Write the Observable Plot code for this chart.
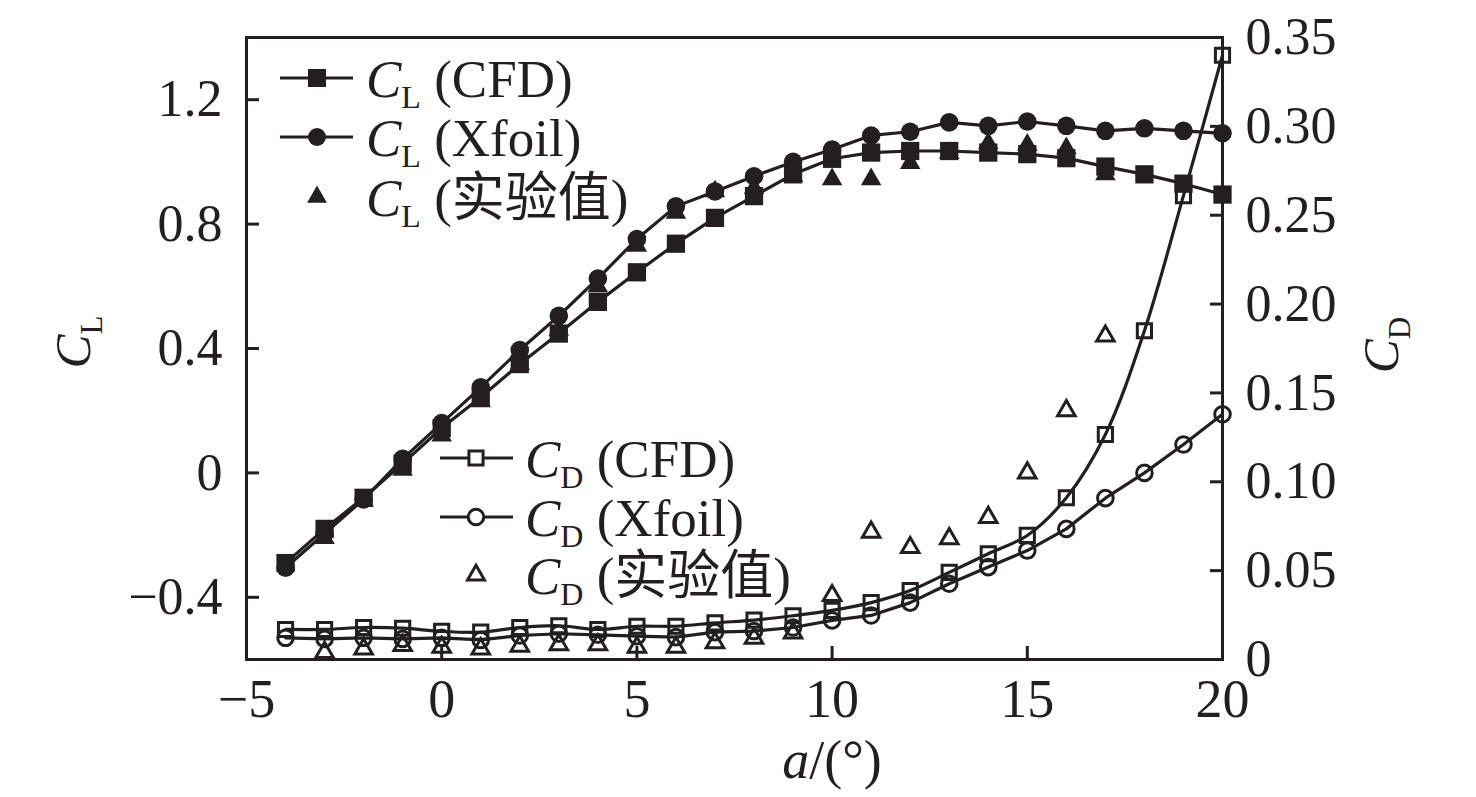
<!DOCTYPE html>
<html><head><meta charset="utf-8">
<script src="https://cdn.jsdelivr.net/npm/d3@7"></script>
<script src="https://cdn.jsdelivr.net/npm/@observablehq/plot@0.6"></script>
<style>body{margin:0;background:#fff;} svg{display:block}</style>
</head><body>
<div id="chart"></div>
<script>
// ---- data ----
const alpha = [-4,-3,-2,-1,0,1,2,3,4,5,6,7,8,9,10,11,12,13,14,15,16,17,18,19,20];
const clCFD = [-0.29,-0.18,-0.08,0.03,0.144,0.243,0.35,0.448,0.55,0.645,0.737,0.82,0.89,0.96,1.01,1.03,1.035,1.035,1.03,1.025,1.012,0.985,0.96,0.93,0.895];
const clXfoil = [-0.305,-0.195,-0.085,0.045,0.16,0.275,0.395,0.505,0.625,0.752,0.857,0.905,0.954,1.0,1.04,1.085,1.097,1.127,1.116,1.13,1.116,1.10,1.108,1.10,1.092];
const cdCFD = [0.0169,0.0169,0.018,0.0176,0.0158,0.0154,0.018,0.019,0.0169,0.0187,0.0187,0.0206,0.0222,0.0246,0.0276,0.032,0.0388,0.049,0.0595,0.0698,0.091,0.1266,0.185,0.261,0.340];
const cdXfoil = [0.0122,0.0116,0.0122,0.0116,0.0122,0.011,0.0135,0.0145,0.0139,0.0131,0.0126,0.0154,0.016,0.018,0.022,0.0248,0.032,0.0426,0.052,0.0613,0.0735,0.0908,0.105,0.121,0.138];
const alphaExp = [-3,-2,-1,0,1,2,3,4,5,6,7,8,9,10,11,12,13,14,15,16,17];
const clExp = [-0.21,-0.09,0.01,0.12,0.23,0.35,0.46,0.60,0.73,0.836,0.905,0.916,0.955,0.944,0.944,0.996,1.028,1.06,1.055,1.044,0.96];
const cdExp = [0.004,0.006,0.0079,0.0069,0.006,0.0075,0.0083,0.0083,0.0069,0.0069,0.0094,0.012,0.015,0.036,0.0717,0.063,0.068,0.080,0.105,0.14,0.182];

const xTicks = [-5,0,5,10,15,20];
const clTicks = [-0.4,0,0.4,0.8,1.2];
const cdTicks = [0,0.05,0.10,0.15,0.20,0.25,0.30,0.35];
const clDomain = [-0.6, 1.4];
const cdDomain = [0, 0.35];

// ---- helpers ----
const INK = "#231f20";
const FONT = "'Liberation Serif','Times New Roman','Noto Sans CJK SC',serif";
const cdToCl = v => clDomain[0] + (v - cdDomain[0]) * (clDomain[1]-clDomain[0])/(cdDomain[1]-cdDomain[0]);
const clToCd = v => cdDomain[0] + (v - clDomain[0]) * (cdDomain[1]-cdDomain[0])/(clDomain[1]-clDomain[0]);
const fmt = d3.format("~g");

const main = alpha.map((a,i)=>({a, clCFD: clCFD[i], clXfoil: clXfoil[i], cdCFD: cdToCl(cdCFD[i]), cdXfoil: cdToCl(cdXfoil[i])}));
const exp = alphaExp.map((a,i)=>({a, cl: clExp[i], cd: cdToCl(cdExp[i])}));

const chart = Plot.plot({
  width: 1476, height: 797,
  marginLeft: 246, marginRight: 254, marginTop: 37, marginBottom: 138,
  style: {fontFamily: FONT, fontSize: "52px", color: INK, background: "#fff", overflow: "visible"},
  x: {domain: [-5, 20]},
  y: {domain: clDomain},
  marks: [
    Plot.axisX({ticks: xTicks, tickSize: -13, tickPadding: 32, strokeWidth: 3, fontSize: 54, label: null, tickFormat: fmt}),
    Plot.axisY({anchor: "left", ticks: clTicks, tickSize: -13, tickPadding: 37, strokeWidth: 3, fontSize: 52, label: null, tickFormat: fmt}),
    Plot.axisY({anchor: "right", ticks: cdTicks.map(cdToCl), tickSize: -13, tickPadding: 36, strokeWidth: 3, fontSize: 52, label: null,
      tickFormat: v => { const c = Math.round(clToCd(v)*1000)/1000; return c === 0 ? "0" : c.toFixed(2); }}),
    Plot.frame({stroke: INK, strokeWidth: 3}),
    // CD
    Plot.line(main, {x: "a", y: "cdCFD", curve: "catmull-rom", stroke: INK, strokeWidth: 3.2}),
    Plot.line(main, {x: "a", y: "cdXfoil", stroke: INK, strokeWidth: 3.2}),
    Plot.dot(main, {x: "a", y: "cdCFD", symbol: "square", r: 8, stroke: INK, strokeWidth: 3, fill: "none"}),
    Plot.dot(main, {x: "a", y: "cdXfoil", symbol: "circle", r: 7.8, stroke: INK, strokeWidth: 3, fill: "none"}),
    Plot.dot(exp, {x: "a", y: "cd", symbol: "triangle", r: 6.5, stroke: INK, strokeWidth: 3, fill: "none"}),
    // CL
    Plot.line(main, {x: "a", y: "clCFD", stroke: INK, strokeWidth: 3.2}),
    Plot.line(main, {x: "a", y: "clXfoil", stroke: INK, strokeWidth: 3.2}),
    Plot.dot(main, {x: "a", y: "clCFD", symbol: "square", r: 10.3, fill: INK}),
    Plot.dot(main, {x: "a", y: "clXfoil", symbol: "circle", r: 9.3, fill: INK}),
    Plot.dot(exp, {x: "a", y: "cl", symbol: "triangle", r: 7.6, fill: INK})
  ]
});
document.getElementById("chart").appendChild(chart);

// ---- legends and axis titles (rich text) ----
const svg = d3.select(chart);
function richLabel(g, sym, sub, rest, size, subSize, subDy, anchor) {
  const t = g.append("text").attr("font-family", FONT).attr("font-size", size).attr("fill", INK)
    .attr("text-anchor", anchor || "start");
  t.append("tspan").attr("font-style", "italic").text(sym);
  t.append("tspan").attr("font-size", subSize).attr("dy", subDy).text(sub);
  if (rest) t.append("tspan").attr("dy", -subDy).text(rest);
  return t;
}
function legend(x0, x1, xm, xt, rows, names, sub) {
  const g = svg.append("g");
  rows.forEach((r, i) => {
    if (r.line) g.append("line").attr("x1", x0).attr("x2", x1).attr("y1", r.y).attr("y2", r.y).attr("stroke", INK).attr("stroke-width", 3.2);
    g.append("path").attr("transform", `translate(${xm},${r.y})`).attr("d", d3.symbol(r.sym, r.size)())
      .attr("fill", r.filled ? INK : "#fff").attr("stroke", r.filled ? "none" : INK).attr("stroke-width", 3);
    richLabel(g, "C", sub, " " + names[i], 53, 32, 11, "start").attr("x", xt).attr("y", r.y + 19);
  });
}
legend(280, 353, 317, 366, [
  {y: 78, line: true, sym: d3.symbolSquare, size: 324, filled: true},
  {y: 137, line: true, sym: d3.symbolCircle, size: 254, filled: true},
  {y: 197, line: false, sym: d3.symbolTriangle, size: 170, filled: true}
], ["(CFD)", "(Xfoil)", "(实验值)"], "L");
legend(440, 513, 476, 525, [
  {y: 458, line: true, sym: d3.symbolSquare, size: 200, filled: false},
  {y: 517, line: true, sym: d3.symbolCircle, size: 190, filled: false},
  {y: 575, line: false, sym: d3.symbolTriangle, size: 125, filled: false}
], ["(CFD)", "(Xfoil)", "(实验值)"], "D");

// axis titles
richLabel(svg.append("g").attr("transform", "translate(90,342) rotate(-90)"), "C", "L", null, 51, 31, 12, "middle");
richLabel(svg.append("g").attr("transform", "translate(1398,345) rotate(-90)"), "C", "D", null, 51, 31, 12, "middle");
const xl = svg.append("text").attr("x", 832).attr("y", 778).attr("text-anchor", "middle")
  .attr("font-family", FONT).attr("font-size", 54).attr("fill", INK);
xl.append("tspan").attr("font-style", "italic").text("a");
xl.append("tspan").text("/(°)");
</script>
</body></html>
